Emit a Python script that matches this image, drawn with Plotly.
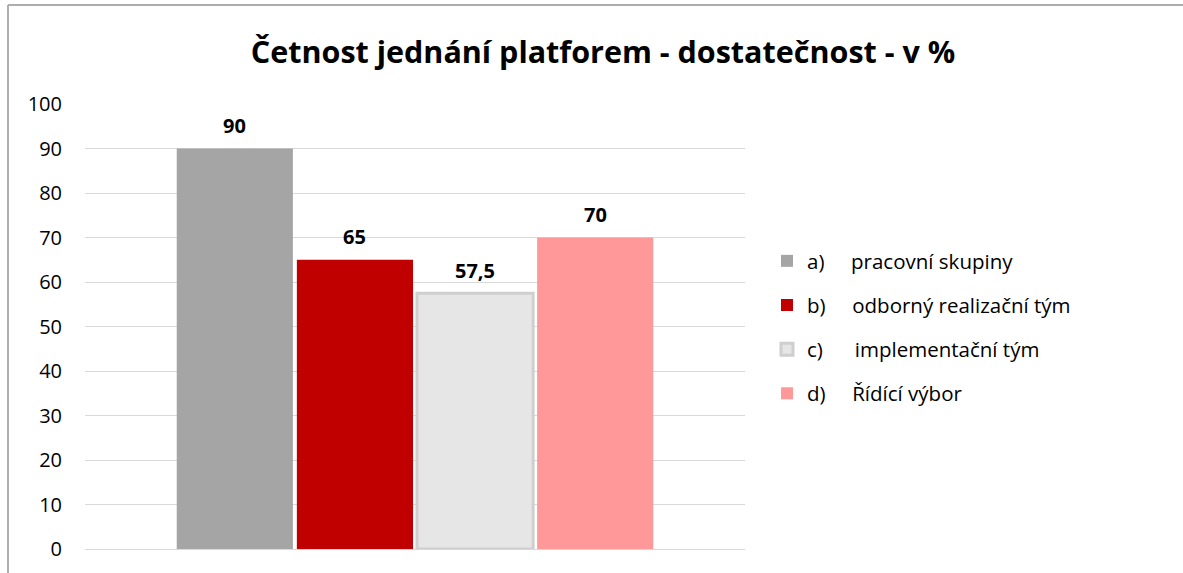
import plotly.graph_objects as go

title = "Četnost jednání platforem - dostatečnost - v %"
series_names = ["a)", "b)", "c)", "d)"]
series_desc = ["pracovní skupiny", "odborný realizační tým", "implementační tým", "Řídící výbor"]
values = [90, 65, 57.5, 70]
value_labels = ["90", "65", "57,5", "70"]
colors = ["#A5A5A5", "#C00000", "#E7E6E6", "#FF9999"]
line_colors = ["#A5A5A5", "#C00000", "#D0CECE", "#FF9999"]
line_widths = [0, 0, 3, 0]
y_ticks = list(range(0, 101, 10))

FONT = "'Open Sans', Lato, sans-serif"
bar_width = 0.176
bar_step = 0.182
group_left = -(3 * bar_step + bar_width) / 2

fig = go.Figure()
annotations = []
gaps = ["\u00a0" * 5, "\u00a0" * 5, "\u00a0" * 6, "\u00a0" * 5]
for i, (nm, desc, v, lab, c) in enumerate(zip(series_names, series_desc, values, value_labels, colors)):
    off = group_left + i * bar_step
    fig.add_trace(go.Bar(
        x=[0], y=[v], name=nm + gaps[i] + desc,
        offset=off, width=bar_width,
        marker=dict(color=c, line=dict(color=line_colors[i], width=line_widths[i])),
        legendgroup=nm, hoverinfo="skip",
    ))
    annotations.append(dict(
        x=off + bar_width / 2, y=v, xref="x", yref="y", text="<b>" + lab + "</b>",
        showarrow=False, yshift=23, font=dict(family=FONT, size=20, color="#000000"),
    ))

L, R, T, B = 85, 438, 104, 24
W, H = 1183, 573
pw, ph = W - L - R, H - T - B

def px(xp):
    return (xp - L) / pw

def py(yp):
    return (H - B - yp) / ph

shapes = [
    dict(type="line", xref="paper", yref="paper", x0=px(8), x1=px(W + 5), y0=py(5), y1=py(5),
         line=dict(color="#ADADAD", width=2)),
    dict(type="line", xref="paper", yref="paper", x0=px(8), x1=px(8), y0=py(5), y1=py(H + 5),
         line=dict(color="#ADADAD", width=2)),
]

fig.update_layout(
    width=W, height=H,
    margin=dict(l=L, r=R, t=T, b=B),
    paper_bgcolor="white", plot_bgcolor="white",
    barmode="overlay",
    font=dict(family=FONT, size=18, color="#000000"),
    title=dict(text="<b>" + title + "</b>", x=603 / W, xanchor="center", y=1 - 52 / H, yanchor="middle",
               font=dict(family=FONT, size=30.5, color="#000000")),
    xaxis=dict(range=[-0.5, 0.5], showticklabels=False, showgrid=False, zeroline=False, fixedrange=True),
    yaxis=dict(range=[0, 100], tickvals=y_ticks, showgrid=True, gridcolor="#D9D9D9", gridwidth=1,
               zeroline=True, zerolinecolor="#D9D9D9", zerolinewidth=1, ticklabelstandoff=22,
               tickfont=dict(family=FONT, size=20, color="#000000")),
    legend=dict(x=px(767), xanchor="left", y=py(241), yanchor="top", traceorder="grouped",
                tracegroupgap=14.5, font=dict(family=FONT, size=20.5, color="#000000"),
                bgcolor="rgba(0,0,0,0)"),
    annotations=annotations,
    shapes=shapes,
    showlegend=True,
)

fig.write_html("out.html", config={"displayModeBar": False},
               post_script="document.body.style.margin='0';")
